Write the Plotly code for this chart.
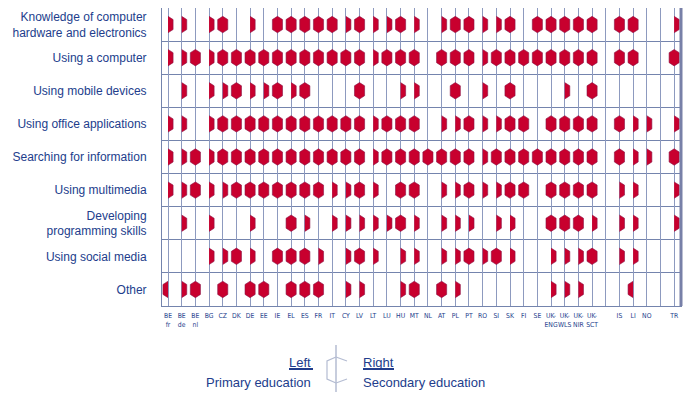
import plotly.graph_objects as go

# ---------------- data ----------------
countries = ["BE<br>fr", "BE<br>de", "BE<br>nl", "BG", "CZ", "DK", "DE", "EE", "IE", "EL",
             "ES", "FR", "IT", "CY", "LV", "LT", "LU", "HU", "MT", "NL", "AT", "PL", "PT",
             "RO", "SI", "SK", "FI", "SE", "UK-<br>ENG", "UK-<br>WLS", "UK-<br>NIR",
             "UK-<br>SCT", "IS", "LI", "NO", "TR"]
group_breaks_after = ["UK-<br>SCT", "NO"]

skills = ["Knowledge of computer<br>hardware and electronics",
          "Using a computer",
          "Using mobile devices",
          "Using office applications",
          "Searching for information",
          "Using multimedia",
          "Developing<br>programming skills",
          "Using social media",
          "Other"]

# codes per country: B = primary and secondary, L = primary only, R = secondary only, - = none
knowledge   = "R R - R B - R - B B B B B R B R R B R - R B B R R B - B B B B B B B - R".split()
computer    = "R R B R B B B B B B B B B B B R B B B - B B B R B B B B B B B B B B - B".split()
mobile      = "- R - R R B R R B R B - - - B - - R R - - B - R - B - - - R - B - - - -".split()
office      = "R R - R B B B B B B B B B B B R B B B - R R B R R B B - B B B B B R R R".split()
searching   = "R R B R B B B B B B B B B B B R B B B B B B B R B B B B B B B B B R R B".split()
multimedia  = "R R B R R B B B B B B B R R B R - B B - R R B R R B B - B B B B R R - R".split()
programming = "- R - R - - R - - B R - R R R R R B R - R R R - R R - - B B B R R R - R".split()
social      = "- - - R R B R - B B B R - R B R - R R - R R B R B R - - R R R B R R - -".split()
other       = "L R B - B - B B - B B B - R R - - R B - B R - - - - - - R R R - - L - -".split()

rows = [knowledge, computer, mobile, office, searching, multimedia, programming, social, other]

legend_left = ("Left", "Primary education")
legend_right = ("Right", "Secondary education")

# ---------------- styling ----------------
RED = "#C8002E"
NAVY = "#223d8c"
GRID_V = "#8d9abf"
GRID_H = "#7484ad"
FONT = "Liberation Sans, Arial, sans-serif"
NARROW = "DejaVu Sans Condensed, Liberation Sans Narrow, Arial Narrow, sans-serif"

# page body has an 8px margin; figure is sized to fit the 700x395 window
OFF = 8
W, H = 700 - OFF, 395 - OFF
ML, MR, MT, MB = 162 - OFF, 19, 8 - OFF, 89
PW, PH = W - ML - MR, H - MT - MB

# column positions (gaps between country groups)
xpos = []
x = 0
for c in countries:
    xpos.append(x)
    x += 1
    if c in group_breaks_after:
        x += 1
n_slots = x

tickvals = list(range(n_slots))
ticktext = [""] * n_slots
for c, p in zip(countries, xpos):
    ticktext[p] = c

# half hexagon geometry (data units)
HW, HH, SH = 0.37, 0.248, 0.151

px_, py_ = [], []
for r, codes in enumerate(rows):
    for p, code in zip(xpos, codes):
        sides = []
        if code in ("B", "L"):
            sides.append(-1)
        if code in ("B", "R"):
            sides.append(1)
        for s in sides:
            px_ += [p, p + s * HW, p + s * HW, p, None]
            py_ += [r - HH, r - SH, r + SH, r + HH, None]

fig = go.Figure()
fig.add_trace(go.Scatter(x=px_, y=py_, mode="lines", fill="toself", fillcolor=RED,
                         line=dict(width=0.6, color="#8a1446"), hoverinfo="skip"))

fig.update_layout(
    width=W, height=H,
    margin=dict(l=ML, r=MR, t=MT, b=MB, autoexpand=False),
    plot_bgcolor="white", paper_bgcolor="white",
    showlegend=False,
    xaxis=dict(range=[-0.44, n_slots - 1 + 0.5], tickvals=tickvals, ticktext=ticktext,
               showgrid=True, gridcolor=GRID_V, gridwidth=1, zeroline=False,
               showline=True, linecolor=GRID_H, linewidth=1, mirror=True, ticks="",
               tickangle=0, ticklabelstandoff=3,
               tickfont=dict(family=NARROW, size=6.8, color=NAVY), fixedrange=True),
    yaxis=dict(range=[len(rows) - 0.5, -0.5], tickvals=list(range(len(rows))), ticktext=skills,
               showgrid=False, zeroline=False, showline=True, linecolor=GRID_H, linewidth=1,
               mirror=True, ticks="", ticklabelstandoff=12,
               minor=dict(tick0=0.5, dtick=1, showgrid=True, gridcolor=GRID_H, gridwidth=1),
               tickfont=dict(family=FONT, size=12, color=NAVY), fixedrange=True),
)

# convert window pixel coordinates to paper coordinates
def X(px):
    return (px - OFF - ML) / PW

def Y(py):
    return (H - MB - (py - OFF)) / PH

# thicker right border
fig.add_shape(type="line", xref="paper", yref="paper", x0=1, x1=1, y0=0, y1=1,
              line=dict(color="#7880a8", width=3))

# legend
fig.add_annotation(xref="paper", yref="paper", x=X(313), y=Y(362), text=legend_left[0],
                   showarrow=False, xanchor="right", yanchor="middle",
                   font=dict(family=FONT, size=13, color=NAVY))
fig.add_annotation(xref="paper", yref="paper", x=X(313), y=Y(382), text=legend_left[1],
                   showarrow=False, xanchor="right", yanchor="middle",
                   font=dict(family=FONT, size=13, color=NAVY))
fig.add_annotation(xref="paper", yref="paper", x=X(361), y=Y(362), text=legend_right[0],
                   showarrow=False, xanchor="left", yanchor="middle",
                   font=dict(family=FONT, size=13, color=NAVY))
fig.add_annotation(xref="paper", yref="paper", x=X(361), y=Y(382), text=legend_right[1],
                   showarrow=False, xanchor="left", yanchor="middle",
                   font=dict(family=FONT, size=13, color=NAVY))
fig.add_shape(type="line", xref="paper", yref="paper", x0=X(289), x1=X(313), y0=Y(369), y1=Y(369),
              line=dict(color=NAVY, width=2))
fig.add_shape(type="line", xref="paper", yref="paper", x0=X(363), x1=X(394), y0=Y(369), y1=Y(369),
              line=dict(color=NAVY, width=2))

# legend hexagon icon
ICON = "#b4bcd2"
fig.add_shape(type="line", xref="paper", yref="paper", x0=X(336), x1=X(336), y0=Y(345), y1=Y(392),
              line=dict(color=ICON, width=1.5))
left_path = f"M {X(336)},{Y(357)} L {X(327)},{Y(361)} L {X(327)},{Y(379)} L {X(336)},{Y(383)}"
right_path = f"M {X(336)},{Y(357)} L {X(347)},{Y(361)} M {X(336)},{Y(383)} L {X(347)},{Y(379)}"
for pth in (left_path, right_path):
    fig.add_shape(type="path", xref="paper", yref="paper", path=pth,
                  line=dict(color=ICON, width=1.2))

fig.write_html("out.html")
